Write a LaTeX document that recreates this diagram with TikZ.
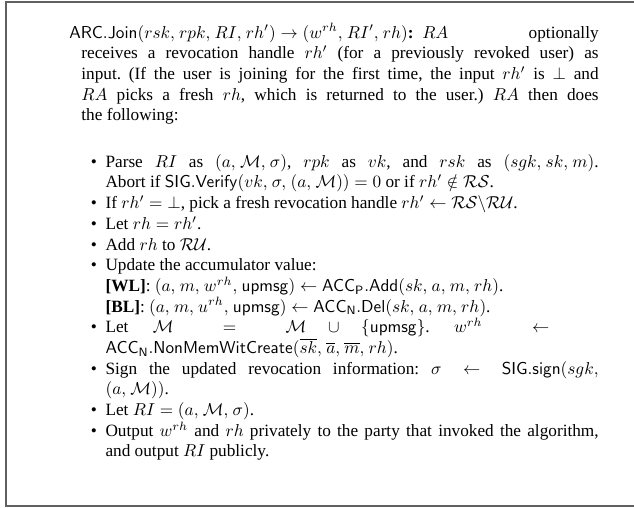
\documentclass[tikz,border=0pt]{standalone}
\usepackage[no-math]{fontspec}
\setmainfont{Liberation Serif}
\newcommand{\Msf}[1]{\mathsf{#1}}
\thinmuskip=4.5mu
\begin{document}
\begin{tikzpicture}[x=0.58pt,y=-0.58pt,
  framestyle/.style={draw=black!62, line width=0.85pt},
  textblock/.style={anchor=base west, inner sep=0pt, text width=307pt, align=justify, font=\fontsize{10}{12}\selectfont}]
\useasboundingbox (0,0) rectangle (634,508);
\coordinate (tr) at (640,2);
\coordinate (tl) at (6,2);
\coordinate (bl) at (6,506);
\coordinate (br) at (640,506);
\draw[framestyle] (tr) -- (tl) -- (bl) -- (br);
\node[textblock] (body) at (69,38) {%
\parindent=0pt\parskip=0pt\frenchspacing\hangindent=7pt\hangafter=1
\mbox{$\Msf{ARC.Join}(rsk, rpk, RI, rh') \rightarrow (w^{rh}, RI', rh)$\textbf{:}\hspace{5pt}$RA$} optionally\linebreak
receives a revocation handle $rh'$ (for a previously revoked user) as\linebreak
input. (If the user is joining for the first time, the input $rh'$ is $\bot$ and\linebreak
$RA$ picks a fresh $rh$, which is returned to the user.) $RA$ then does\linebreak
the following:
\begin{list}{\textbullet}{\setlength\leftmargin{21pt}\setlength\labelsep{5pt}\setlength\labelwidth{16pt}\setlength\itemsep{0pt}\setlength\parsep{0pt}\setlength\topsep{15pt}\setlength\partopsep{0pt}}
\item Parse $RI$ as $(a, \mathcal{M}, \sigma)$, $rpk$ as $vk$, and $rsk$ as $(sgk, sk, m)$.\linebreak
Abort if $\Msf{SIG.Verify}(vk, \sigma, (a, \mathcal{M})) = 0$ or if $rh' \notin \mathcal{RS}$.
\item If $rh' = \bot$, pick a fresh revocation handle $rh' \leftarrow \mathcal{RS}\backslash\mathcal{RU}$.
\item Let $rh = rh'$.
\item Add $rh$ to $\mathcal{RU}$.
\item Update the accumulator value:\\
\textbf{[WL]}: $(a, m, w^{rh}, \Msf{upmsg}) \leftarrow \Msf{ACC}_{\Msf{P}}.\Msf{Add}(sk, a, m, rh)$.\\
\textbf{[BL]}: $(a, m, u^{rh}, \Msf{upmsg}) \leftarrow \Msf{ACC}_{\Msf{N}}.\Msf{Del}(sk, a, m, rh)$.
\item Let $\mathcal{M} = \mathcal{M} \cup \{\Msf{upmsg}\}$. $w^{rh} \leftarrow{}$\linebreak
$\Msf{ACC}_{\Msf{N}}.\Msf{NonMemWitCreate}(\overline{sk}, \overline{a}, \overline{m}, rh)$.
\item Sign the updated revocation information: $\sigma \leftarrow \Msf{SIG.sign}(sgk,$\linebreak
$(a, \mathcal{M}))$.
\item Let $RI = (a, \mathcal{M}, \sigma)$.
\item Output $w^{rh}$ and $rh$ privately to the party that invoked the algorithm,\linebreak
and output $RI$ publicly.
\end{list}};
\end{tikzpicture}
\end{document}
